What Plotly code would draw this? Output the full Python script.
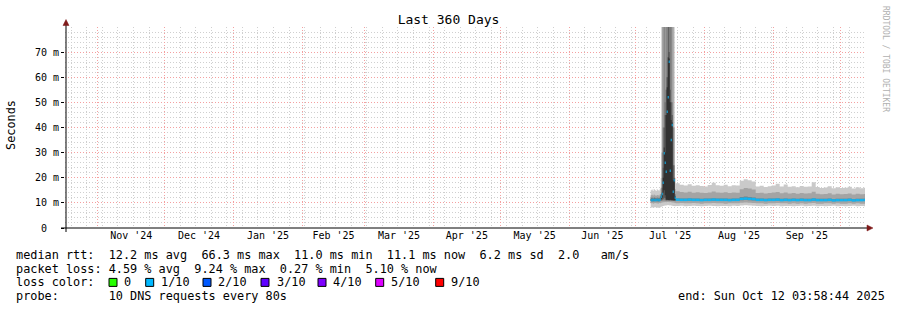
import pandas as pd
import plotly.graph_objects as go

# ---------------- time frame ----------------
END = pd.Timestamp("2025-10-12 03:58:44")
START = END - pd.Timedelta(days=360)
SPIKE_T0 = "2025-07-07 17:30"          # first sample with data
SPIKE_STEP_S = 38880                     # one graph column (10.8 h)
STEADY_STEP_S = 155520                   # four graph columns

# ---------------- data (ms) : spike period, per column ----------------
SPIKE_MEDIAN = [11.1, 11.0, 11.2, 11.1, 11.0, 11.1, 11.2, 11.1, 11.0, 11.3,
                12.4, 13.5, 18.0, 29.7, 26.0, 22.4, 46.3, 52.0, 66.2, 22.8,
                35.0, 41.0, 14.4, 19.0, 12.0]
SPIKE_HI1 = [15.0, 15.3, 14.8, 15.5, 15.1, 14.7, 15.4, 15.0, 14.9, 15.6,
             19.9, 95, 95, 95, 95, 95, 95, 95, 95, 95,
             95, 95, 95, 95, 20.0]
SPIKE_HI2 = [13.0, 13.2, 12.9, 13.3, 13.0, 12.8, 13.1, 13.0, 12.9, 13.4,
             16.0, 95, 95, 95, 95, 95, 95, 95, 95, 95,
             95, 95, 95, 40.0, 15.5]
SPIKE_HI3 = [12.0, 12.1, 11.9, 12.2, 12.0, 11.9, 12.1, 12.0, 11.9, 12.3,
             13.5, 30.0, 40.0, 95, 50.0, 95, 60.0, 95, 95, 95,
             95, 50.0, 40.0, 25.0, 13.5]
SPIKE_HI4 = [11.6, 11.6, 11.5, 11.7, 11.6, 11.5, 11.6, 11.6, 11.5, 11.8,
             12.9, 16.0, 24.0, 40.0, 45.0, 55.0, 60.0, 95, 70.0, 55.0,
             50.0, 45.0, 25.0, 20.0, 12.8]
SPIKE_HI5 = [11.3, 11.2, 11.4, 11.3, 11.2, 11.3, 11.4, 11.3, 11.2, 11.5,
             12.6, 14.0, 20.0, 32.0, 30.0, 45.0, 56.0, 68.0, 67.5, 50.0,
             43.0, 42.0, 19.0, 19.5, 12.5]
SPIKE_LO5 = [10.9, 10.9, 11.0, 10.9, 10.9, 11.0, 11.0, 10.9, 10.9, 11.1,
             11.5, 12.0, 14.0, 15.0, 13.0, 11.2, 11.2, 11.1, 11.1, 11.2,
             11.1, 11.1, 11.0, 11.0, 11.0]
SPIKE_LO4 = [10.8, 10.8, 10.7, 10.8, 10.9, 10.8, 10.8, 10.7, 10.8, 10.9,
             11.0, 11.2, 11.5, 12.0, 11.8, 11.0, 11.0, 11.0, 10.9, 11.0,
             10.9, 10.9, 10.9, 10.9, 10.9]
SPIKE_LO3 = [10.5, 10.5, 10.4, 10.5, 10.6, 10.5, 10.5, 10.4, 10.5, 10.6,
             10.7, 10.8, 10.9, 10.9, 10.9, 10.8, 10.9, 10.9, 10.8, 10.9,
             10.8, 10.8, 10.7, 10.7, 10.6]
SPIKE_LO2 = [9.8, 9.9, 9.7, 9.8, 9.9, 9.8, 9.8, 9.7, 9.9, 9.8,
             10.0, 10.1, 10.2, 10.2, 10.3, 10.2, 10.3, 10.3, 10.2, 10.3,
             10.2, 10.1, 10.1, 10.0, 9.9]
SPIKE_LO1 = [8.1, 8.3, 8.0, 8.2, 8.4, 8.1, 8.2, 8.0, 8.3, 8.2,
             8.5, 8.6, 8.8, 8.9, 9.0, 9.0, 9.1, 9.2, 9.0, 9.1,
             9.0, 8.9, 8.8, 8.8, 8.7]

# ---------------- data (ms) : steady period ----------------
STEADY_HI1 = [17.8, 17.2, 16.9, 17.4, 16.8, 17.0, 16.7, 16.5,
              17.1, 18.0, 17.0, 16.8, 17.2, 16.6, 17.0, 16.9,
              18.8, 19.4, 19.0, 18.5, 16.5, 16.8, 16.3, 16.6,
              16.9, 17.6, 16.5, 17.3, 16.4, 16.6, 16.2, 16.7,
              16.4, 16.5, 18.2, 16.3, 15.9, 16.1, 16.6, 15.8,
              16.2, 15.9, 16.0, 16.4, 15.7, 16.2, 15.8, 16.0]
STEADY_HI2 = [14.6, 14.3, 14.1, 14.4, 14.0, 14.2, 14.0, 13.9,
              14.1, 14.5, 14.1, 14.0, 14.2, 13.9, 14.1, 14.0,
              15.4, 15.9, 15.7, 15.3, 13.9, 14.0, 13.7, 13.9,
              14.1, 14.3, 13.8, 14.1, 13.7, 13.9, 13.6, 13.9,
              13.7, 13.8, 14.4, 13.6, 13.4, 13.5, 13.8, 13.3,
              13.6, 13.4, 13.5, 13.7, 13.3, 13.6, 13.4, 13.5]
STEADY_HI3 = [11.8, 11.7, 11.7, 11.8, 11.7, 11.7, 11.6, 11.7,
              11.7, 11.8, 11.7, 11.7, 11.7, 11.6, 11.7, 11.7,
              12.3, 12.5, 12.3, 12.1, 11.7, 11.7, 11.6, 11.7,
              11.7, 11.8, 11.6, 11.7, 11.6, 11.7, 11.6, 11.7,
              11.6, 11.6, 11.8, 11.6, 11.6, 11.6, 11.7, 11.5,
              11.6, 11.6, 11.6, 11.7, 11.5, 11.6, 11.6, 11.6]
STEADY_MEDIAN = [11.3, 11.2, 11.2, 11.3, 11.2, 11.2, 11.1, 11.2,
                 11.2, 11.3, 11.2, 11.2, 11.2, 11.1, 11.2, 11.2,
                 11.6, 11.7, 11.6, 11.5, 11.2, 11.2, 11.1, 11.2,
                 11.2, 11.3, 11.1, 11.2, 11.1, 11.2, 11.1, 11.2,
                 11.1, 11.1, 11.3, 11.1, 11.1, 11.1, 11.2, 11.0,
                 11.1, 11.1, 11.1, 11.2, 11.0, 11.1, 11.1, 11.1]
STEADY_LO3 = [10.8, 10.8, 10.8, 10.8, 10.8, 10.8, 10.7, 10.8,
              10.8, 10.8, 10.8, 10.8, 10.8, 10.7, 10.8, 10.8,
              11.0, 11.1, 11.0, 10.9, 10.8, 10.8, 10.7, 10.8,
              10.8, 10.8, 10.7, 10.8, 10.7, 10.8, 10.7, 10.8,
              10.7, 10.7, 10.8, 10.7, 10.7, 10.7, 10.8, 10.6,
              10.7, 10.7, 10.7, 10.8, 10.6, 10.7, 10.7, 10.7]
STEADY_LO2 = [9.8, 9.9, 9.8, 9.8, 9.9, 9.8, 9.7, 9.8,
              9.8, 9.9, 9.8, 9.8, 9.7, 9.8, 9.8, 9.8,
              10.0, 10.1, 10.0, 9.9, 9.8, 9.8, 9.7, 9.8,
              9.8, 9.9, 9.8, 9.8, 9.7, 9.8, 9.7, 9.8,
              9.7, 9.8, 9.9, 9.7, 9.7, 9.8, 9.8, 9.7,
              9.8, 9.7, 9.7, 9.8, 9.7, 9.8, 9.7, 9.7]
STEADY_LO1 = [8.8, 8.9, 8.7, 8.8, 8.9, 8.8, 8.7, 8.8,
              8.9, 8.8, 8.7, 8.8, 8.8, 8.7, 8.9, 8.8,
              9.0, 9.1, 9.0, 8.9, 8.8, 8.7, 8.8, 8.9,
              8.8, 8.9, 8.7, 8.8, 8.8, 8.7, 8.8, 8.9,
              8.7, 8.8, 8.9, 8.7, 8.8, 8.7, 8.8, 8.9,
              8.7, 8.8, 8.7, 8.8, 8.9, 8.7, 8.8, 8.7]

# ---------------- labels ----------------
TITLE = "Last 360 Days"
Y_TICKS = [0, 10, 20, 30, 40, 50, 60, 70]
Y_TICK_TEXT = ["0\u00a0\u00a0", "10 m", "20 m", "30 m", "40 m", "50 m", "60 m", "70 m"]
LINE_RTT = "median rtt:  12.2 ms avg  66.3 ms max  11.0 ms min  11.1 ms now  6.2 ms sd  2.0   am/s"
LINE_LOSS = "packet loss: 4.59 % avg  9.24 % max  0.27 % min  5.10 % now"
LINE_PROBE = "probe:       10 DNS requests every 80s"
END_TEXT = "end: Sun Oct 12 03:58:44 2025"
LOSS_LABELS = ["0", "1/10", "2/10", "3/10", "4/10", "5/10", "9/10"]
LOSS_COLORS = ["#26ff00", "#00b8ff", "#0059ff", "#5e00ff", "#7e00ff", "#dd00ff", "#ff0000"]
SMOKE_COLORS = ["#cacaca", "#a4a4a4", "#7e7e7e", "#585858", "#323232"]
MEDIAN_COLOR = "#10b4f2"

# ---------------- geometry helpers ----------------
W, H = 897, 310
L, R, T, B = 65, 32, 27, 82
PW, PH = W - L - R, H - T - B
MONO = "DejaVu Sans Mono"
FS = 11.85


def pxx(x):
    return (x - L) / PW


def pxy(y):
    return (H - B - y) / PH


# ---------------- time grids ----------------
spike_t = pd.date_range(SPIKE_T0, periods=len(SPIKE_MEDIAN), freq=f"{SPIKE_STEP_S}s")
steady_t = pd.date_range(spike_t[-1] + pd.Timedelta(seconds=SPIKE_STEP_S),
                         periods=len(STEADY_MEDIAN), freq=f"{STEADY_STEP_S}s")
steady_end = steady_t[-1] + pd.Timedelta(seconds=STEADY_STEP_S)
spike_end = spike_t[-1] + pd.Timedelta(seconds=SPIKE_STEP_S)

all_t = list(spike_t) + list(steady_t)
all_edges = all_t + [steady_end]
spike_edges = list(spike_t) + [spike_end]

fig = go.Figure()


def add_band(x, lo, hi, color):
    lo = list(lo) + [lo[-1]]
    hi = list(hi) + [hi[-1]]
    fig.add_trace(go.Scatter(x=x, y=lo, mode="lines", line=dict(width=0, shape="hv"),
                             hoverinfo="skip", showlegend=False))
    fig.add_trace(go.Scatter(x=x, y=hi, mode="lines", line=dict(width=0, shape="hv"),
                             fill="tonexty", fillcolor=color, hoverinfo="skip", showlegend=False))


add_band(all_edges, SPIKE_LO1 + STEADY_LO1, SPIKE_HI1 + STEADY_HI1, SMOKE_COLORS[0])
add_band(all_edges, SPIKE_LO2 + STEADY_LO2, SPIKE_HI2 + STEADY_HI2, SMOKE_COLORS[1])
add_band(all_edges, SPIKE_LO3 + STEADY_LO3, SPIKE_HI3 + STEADY_HI3, SMOKE_COLORS[2])
add_band(spike_edges, SPIKE_LO4, SPIKE_HI4, SMOKE_COLORS[3])
add_band(spike_edges, SPIKE_LO5, SPIKE_HI5, SMOKE_COLORS[4])

# median drawn as one horizontal segment per sample
med = SPIKE_MEDIAN + STEADY_MEDIAN
mx, my = [], []
for i, v in enumerate(med):
    mx += [all_edges[i], all_edges[i + 1], None]
    my += [v, v, None]
fig.add_trace(go.Scatter(x=mx, y=my, mode="lines", line=dict(color=MEDIAN_COLOR, width=2.5),
                         hoverinfo="skip", showlegend=False, connectgaps=False))

RED_GRID = "#f4a0a0"
GRAY_GRID = "#cfcfcf"
DASH = "1px,2px"

fig.update_layout(
    width=W, height=H,
    margin=dict(l=L, r=R, t=T, b=B, pad=0),
    paper_bgcolor="white", plot_bgcolor="white",
    showlegend=False,
    font=dict(family=MONO, size=10, color="#000000"),
    title=dict(text=TITLE, x=0.5, xref="container", xanchor="center",
               y=1 - 19 / H, yref="container", yanchor="middle",
               font=dict(family=MONO, size=13, color="#000000")),
    xaxis=dict(
        type="date", range=[START, END],
        showgrid=True, gridcolor=RED_GRID, griddash=DASH, gridwidth=1,
        dtick="M1", tick0="2024-11-01", tickformat="%b '%y", ticklabelmode="period",
        ticks="", showline=False, zeroline=False,
        tickfont=dict(family=MONO, size=10, color="#000000"),
        minor=dict(dtick=7 * 86400000, tick0="2024-10-20", showgrid=True,
                   gridcolor=GRAY_GRID, griddash=DASH, gridwidth=1),
    ),
    yaxis=dict(
        range=[0, 79.99], tickmode="array", tickvals=Y_TICKS, ticktext=Y_TICK_TEXT,
        showgrid=True, gridcolor=RED_GRID, griddash=DASH, gridwidth=1,
        ticks="outside", ticklen=3, tickcolor="#000000", showline=False, zeroline=False,
        tickfont=dict(family=MONO, size=10, color="#000000"),
        minor=dict(tickmode="linear", tick0=0, dtick=2, showgrid=True,
                   gridcolor=GRAY_GRID, griddash=DASH, gridwidth=1),
    ),
)

shapes = []
# axis lines
shapes.append(dict(type="line", xref="paper", yref="paper", x0=pxx(61), x1=pxx(868),
                   y0=pxy(228), y1=pxy(228), line=dict(color="#000000", width=1)))
shapes.append(dict(type="line", xref="paper", yref="paper", x0=pxx(66), x1=pxx(66),
                   y0=pxy(232), y1=pxy(23), line=dict(color="#000000", width=1)))
# arrow heads
ARROW = "#7f1a1a"
shapes.append(dict(type="path", xref="paper", yref="paper",
                   path=f"M {pxx(63)} {pxy(25.5)} L {pxx(69)} {pxy(25.5)} L {pxx(66)} {pxy(19.5)} Z",
                   fillcolor=ARROW, line=dict(color=ARROW, width=0.5)))
shapes.append(dict(type="path", xref="paper", yref="paper",
                   path=f"M {pxx(867)} {pxy(225)} L {pxx(867)} {pxy(231)} L {pxx(873)} {pxy(228)} Z",
                   fillcolor=ARROW, line=dict(color=ARROW, width=0.5)))

annotations = []


def text(x, y, s, size=FS, color="#000000", xanchor="left", angle=0):
    annotations.append(dict(x=pxx(x), y=pxy(y), xref="paper", yref="paper", text=s,
                            showarrow=False, xanchor=xanchor, yanchor="middle",
                            textangle=angle, borderpad=0,
                            font=dict(family=MONO, size=size, color=color)))


ROW_Y = [254.8, 268.6, 282.4, 296.2]
text(15, ROW_Y[0], LINE_RTT)
text(15, ROW_Y[1], LINE_LOSS)
text(15, ROW_Y[2], "loss color:")
text(15, ROW_Y[3], LINE_PROBE)
text(677, ROW_Y[3], END_TEXT)

BOX_X = [109, 145.7, 203, 261, 318, 375.7, 435.7]
LBL_X = [123.3, 160.3, 217.3, 275.7, 332.3, 389.7, 449.7]
for bx, lx, lab, col in zip(BOX_X, LBL_X, LOSS_LABELS, LOSS_COLORS):
    shapes.append(dict(type="rect", xref="paper", yref="paper",
                       x0=pxx(bx), x1=pxx(bx + 8), y0=pxy(ROW_Y[2] + 4), y1=pxy(ROW_Y[2] - 4),
                       fillcolor=col, line=dict(color="#000000", width=1)))
    text(lx, ROW_Y[2], lab)

text(11, 125, "Seconds", angle=-90, xanchor="center")
text(886, 59, "RRDTOOL / TOBI OETIKER", size=8, color="#b0b0b0", angle=90, xanchor="center")

fig.update_layout(shapes=shapes, annotations=annotations)
fig.write_html("out.html")
